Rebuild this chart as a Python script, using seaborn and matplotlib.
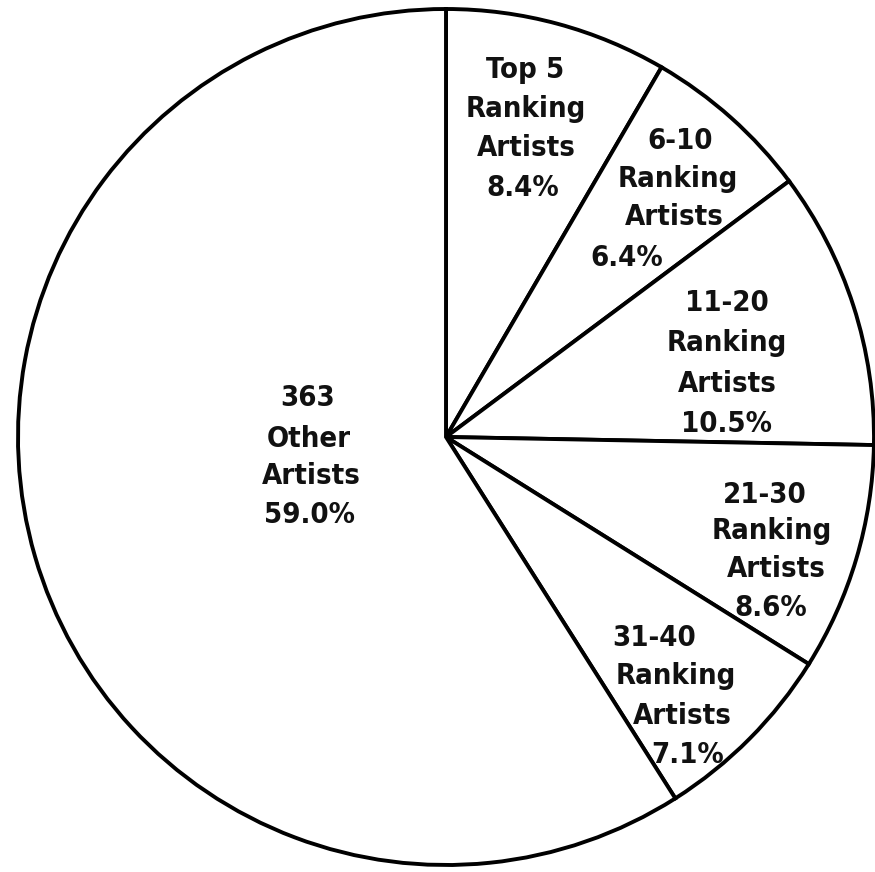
import matplotlib
matplotlib.use("Agg")
import matplotlib.pyplot as plt
import seaborn as sns

# Share of chart activity by artist ranking group
groups = ["Top 5\nRanking\nArtists", "6-10\nRanking\nArtists", "11-20\nRanking\nArtists",
          "21-30\nRanking\nArtists", "31-40\nRanking\nArtists", "363\nOther\nArtists"]
shares = [8.4, 6.4, 10.5, 8.6, 7.1, 59.0]

sns.set_style("white")
plt.rcParams["font.family"] = ["DejaVu Sans"]

W, H = 875, 872
fig = plt.figure(figsize=(W / 100, H / 100), dpi=100, facecolor="white")
ax = fig.add_axes([0, 0, 1, 1])

cx, cy, r = 446, H - 437, 428
ax.pie(shares, startangle=90, counterclock=False, center=(cx, cy), radius=r,
       colors=["white"] * len(shares),
       wedgeprops=dict(edgecolor="black", linewidth=2.8))
ax.set_xlim(0, W)
ax.set_ylim(0, H)
ax.set_aspect("equal")
ax.axis("off")

# Per-line anchor points (pixel x, pixel y of cap centre from top) for each label block
line_pos = [
    [(525, 67), (526, 106), (526, 145), (523, 185)],
    [(680, 138), (678, 176), (674, 214), (627, 255)],
    [(727, 300), (727, 340), (727, 381), (727, 421)],
    [(765, 492), (772, 528), (776, 566), (771, 605)],
    [(654, 635), (676, 673), (682, 713), (688, 752)],
    [(308, 395), (309, 436), (311, 473), (310, 512)],
]

for name, val, pos in zip(groups, shares, line_pos):
    lines = name.split("\n") + [f"{val:.1f}%"]
    for txt, (px, py) in zip(lines, pos):
        ax.text(px, H - py - 11, txt, ha="center", va="baseline",
                fontsize=21, fontweight="bold", fontstretch="condensed",
                color="#111111")

fig.savefig("out.png", dpi=100, facecolor="white")
